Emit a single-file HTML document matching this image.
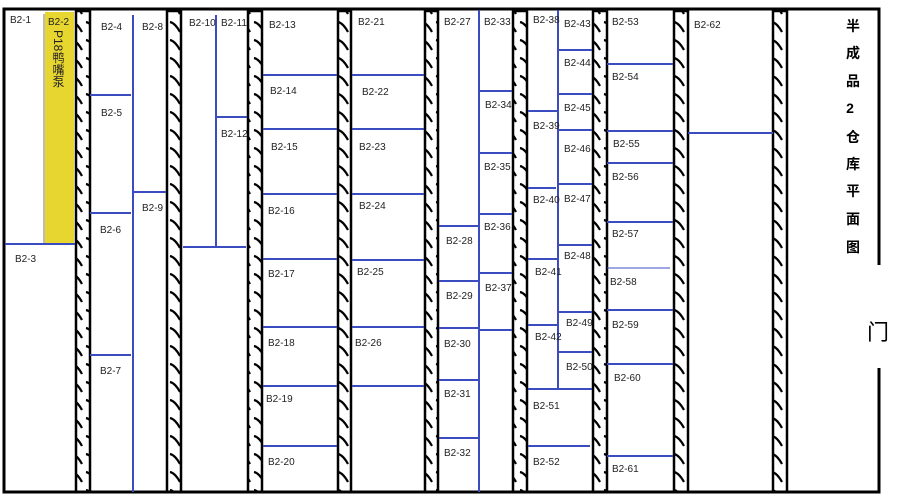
<!DOCTYPE html>
<html><head><meta charset="utf-8"><style>
html,body{margin:0;padding:0;background:#fff;}
svg{display:block;}
text{font-family:"Liberation Sans",sans-serif;font-size:10px;fill:#222;}
.cjk{font-family:"Liberation Sans","Noto Sans CJK SC",sans-serif;font-size:14px;fill:#000;font-weight:bold;}
</style></head><body>
<svg width="908" height="503" viewBox="0 0 908 503" xmlns="http://www.w3.org/2000/svg">
<defs>
<pattern id="h" width="14" height="18" patternUnits="userSpaceOnUse">
<path d="M2,4 Q7,5 12,14" stroke="#000" stroke-width="2.2" fill="none"/>
</pattern>
</defs>
<rect x="0" y="0" width="908" height="503" fill="#fff"/>
<rect x="45" y="12" width="29" height="232" fill="#e8d630"/>
<text x="48" y="25" font-size="9">B2-2</text>
<text x="58" y="30" style="font-size:12px;writing-mode:tb;">P18鸭嘴泵</text>
<line x1="44" y1="14" x2="44" y2="244" stroke="#777" stroke-width="1"/>
<g stroke="#000" stroke-width="2.5">
<rect x="76" y="11" width="14" height="481" fill="url(#h)"/>
<rect x="167" y="11" width="14" height="481" fill="url(#h)"/>
<rect x="248" y="11" width="14" height="481" fill="url(#h)"/>
<rect x="338" y="11" width="13" height="481" fill="url(#h)"/>
<rect x="425" y="11" width="13" height="481" fill="url(#h)"/>
<rect x="513" y="11" width="14" height="481" fill="url(#h)"/>
<rect x="593" y="11" width="14" height="481" fill="url(#h)"/>
<rect x="674" y="11" width="14" height="481" fill="url(#h)"/>
<rect x="773" y="11" width="14" height="481" fill="url(#h)"/>
</g>
<g stroke="#000" stroke-width="3" fill="none">
<path d="M879,265 L879,9 L4,9 L4,492 L879,492 L879,368"/>
</g>
<g stroke="#3b4cc0" stroke-width="2">
<line x1="5" y1="244" x2="75" y2="244"/>
<line x1="133" y1="15" x2="133" y2="492"/>
<line x1="90" y1="95" x2="131" y2="95"/>
<line x1="90" y1="213" x2="131" y2="213"/>
<line x1="90" y1="355" x2="131" y2="355"/>
<line x1="133" y1="192" x2="166" y2="192"/>
<line x1="216" y1="15" x2="216" y2="247"/>
<line x1="216" y1="117" x2="247" y2="117"/>
<line x1="183" y1="247" x2="246" y2="247"/>
<line x1="263" y1="75" x2="337" y2="75"/><line x1="263" y1="129" x2="337" y2="129"/>
<line x1="263" y1="194" x2="337" y2="194"/><line x1="263" y1="259" x2="337" y2="259"/>
<line x1="263" y1="327" x2="337" y2="327"/><line x1="263" y1="386" x2="337" y2="386"/>
<line x1="263" y1="446" x2="337" y2="446"/>
<line x1="352" y1="75" x2="424" y2="75"/><line x1="352" y1="129" x2="424" y2="129"/>
<line x1="352" y1="194" x2="424" y2="194"/><line x1="352" y1="260" x2="424" y2="260"/>
<line x1="352" y1="327" x2="424" y2="327"/><line x1="352" y1="386" x2="424" y2="386"/>
<line x1="479" y1="10" x2="479" y2="492"/>
<line x1="439" y1="226" x2="479" y2="226"/><line x1="439" y1="281" x2="479" y2="281"/>
<line x1="439" y1="328" x2="479" y2="328"/><line x1="439" y1="380" x2="479" y2="380"/>
<line x1="439" y1="438" x2="479" y2="438"/>
<line x1="479" y1="91" x2="512" y2="91"/><line x1="479" y1="153" x2="512" y2="153"/>
<line x1="479" y1="214" x2="512" y2="214"/><line x1="479" y1="273" x2="512" y2="273"/>
<line x1="479" y1="330" x2="512" y2="330"/>
<line x1="558" y1="10" x2="558" y2="389"/>
<line x1="528" y1="111" x2="558" y2="111"/><line x1="528" y1="188" x2="556" y2="188"/>
<line x1="528" y1="259" x2="558" y2="259"/><line x1="528" y1="325" x2="558" y2="325"/>
<line x1="528" y1="389" x2="592" y2="389"/><line x1="528" y1="446" x2="590" y2="446"/>
<line x1="558" y1="50" x2="592" y2="50"/><line x1="558" y1="94" x2="592" y2="94"/>
<line x1="558" y1="130" x2="592" y2="130"/><line x1="558" y1="184" x2="592" y2="184"/>
<line x1="558" y1="245" x2="592" y2="245"/><line x1="558" y1="312" x2="592" y2="312"/>
<line x1="558" y1="352" x2="592" y2="352"/>
<line x1="607" y1="64" x2="673" y2="64"/><line x1="607" y1="131" x2="673" y2="131"/>
<line x1="607" y1="163" x2="673" y2="163"/><line x1="607" y1="222" x2="673" y2="222"/>
<line x1="607" y1="268" x2="670" y2="268" stroke-width="1"/><line x1="607" y1="310" x2="673" y2="310"/>
<line x1="607" y1="364" x2="673" y2="364"/><line x1="607" y1="456" x2="673" y2="456"/>
<line x1="688" y1="133" x2="773" y2="133"/>
</g>
<g>
<text x="10" y="23">B2-1</text><text x="15" y="262">B2-3</text>
<text x="101" y="30">B2-4</text><text x="101" y="116">B2-5</text><text x="100" y="233">B2-6</text><text x="100" y="374">B2-7</text>
<text x="142" y="30">B2-8</text><text x="142" y="211">B2-9</text>
<text x="189" y="26">B2-10</text><text x="221" y="26">B2-11</text><text x="221" y="137">B2-12</text>
<text x="269" y="28">B2-13</text><text x="270" y="94">B2-14</text><text x="271" y="150">B2-15</text><text x="268" y="214">B2-16</text>
<text x="268" y="277">B2-17</text><text x="268" y="346">B2-18</text><text x="266" y="402">B2-19</text><text x="268" y="465">B2-20</text>
<text x="358" y="25">B2-21</text><text x="362" y="95">B2-22</text><text x="359" y="150">B2-23</text><text x="359" y="209">B2-24</text>
<text x="357" y="275">B2-25</text><text x="355" y="346">B2-26</text>
<text x="444" y="25">B2-27</text><text x="446" y="244">B2-28</text><text x="446" y="299">B2-29</text><text x="444" y="347">B2-30</text>
<text x="444" y="397">B2-31</text><text x="444" y="456">B2-32</text>
<text x="484" y="25">B2-33</text><text x="485" y="108">B2-34</text><text x="484" y="170">B2-35</text><text x="484" y="230">B2-36</text><text x="485" y="291">B2-37</text>
<text x="533" y="23">B2-38</text><text x="533" y="129">B2-39</text><text x="533" y="203">B2-40</text><text x="535" y="275">B2-41</text>
<text x="535" y="340">B2-42</text><text x="533" y="409">B2-51</text><text x="533" y="465">B2-52</text>
<text x="564" y="27">B2-43</text><text x="564" y="66">B2-44</text><text x="564" y="111">B2-45</text><text x="564" y="152">B2-46</text>
<text x="564" y="202">B2-47</text><text x="564" y="259">B2-48</text><text x="566" y="326">B2-49</text><text x="566" y="370">B2-50</text>
<text x="612" y="25">B2-53</text><text x="612" y="80">B2-54</text><text x="613" y="147">B2-55</text><text x="612" y="180">B2-56</text>
<text x="612" y="237">B2-57</text><text x="610" y="285">B2-58</text><text x="612" y="328">B2-59</text><text x="614" y="381">B2-60</text>
<text x="612" y="472">B2-61</text>
<text x="694" y="28">B2-62</text>
</g>
<g text-anchor="middle">
<text class="cjk" x="853" y="31">半</text>
<text class="cjk" x="853" y="58">成</text>
<text class="cjk" x="853" y="86">品</text>
<text class="cjk" x="850" y="113">2</text>
<text class="cjk" x="853" y="142">仓</text>
<text class="cjk" x="853" y="169">库</text>
<text class="cjk" x="853" y="196">平</text>
<text class="cjk" x="853" y="224">面</text>
<text class="cjk" x="853" y="252">图</text>
<text class="cjk" x="878" y="340" style="font-size:22px;font-weight:normal">门</text>
</g>
</svg>
</body></html>
